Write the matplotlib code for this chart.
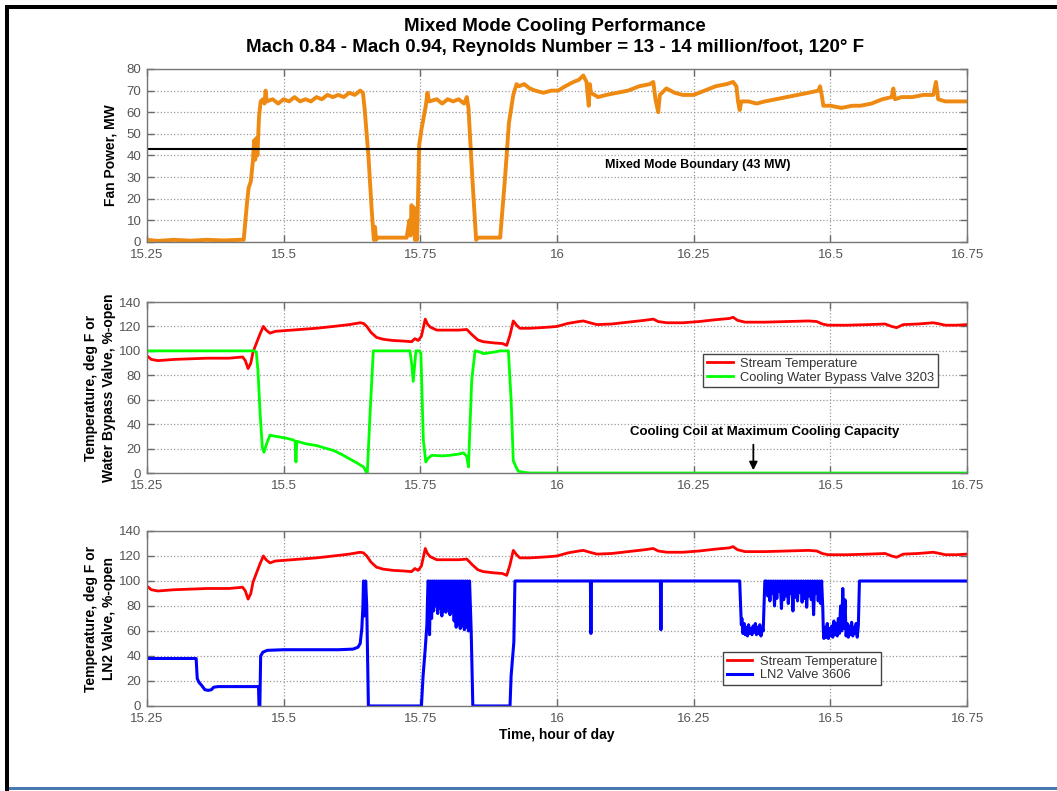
import numpy as np
import matplotlib
matplotlib.use("Agg")
import matplotlib.pyplot as plt
from matplotlib.patches import Rectangle

plt.rcParams["font.family"] = ["Liberation Sans", "DejaVu Sans"]

# ---------------- data ----------------
XTICKS = [15.25, 15.5, 15.75, 16.0, 16.25, 16.5, 16.75]
XTICK_LABELS = ["15.25", "15.5", "15.75", "16", "16.25", "16.5", "16.75"]
BOUNDARY_MW = 43

# fan power, MW
FAN_T = [15.250, 15.270, 15.300, 15.330, 15.360, 15.390, 15.420, 15.427, 15.433, 15.436,
         15.440, 15.444, 15.446, 15.448, 15.450, 15.452, 15.455, 15.458, 15.462, 15.465,
         15.467, 15.469, 15.480, 15.490, 15.500, 15.510, 15.520, 15.530, 15.540, 15.550,
         15.560, 15.570, 15.580, 15.590, 15.600, 15.610, 15.620, 15.630, 15.640, 15.645,
         15.648, 15.655, 15.661, 15.665, 15.667, 15.669, 15.672, 15.690, 15.710, 15.725,
         15.730, 15.732, 15.734, 15.736, 15.738, 15.740, 15.744, 15.748, 15.752, 15.760,
         15.763, 15.766, 15.780, 15.790, 15.800, 15.810, 15.820, 15.830, 15.835, 15.838,
         15.845, 15.852, 15.856, 15.870, 15.885, 15.896, 15.905, 15.912, 15.920, 15.926,
         15.930, 15.940, 15.950, 15.960, 15.975, 15.990, 16.002, 16.015, 16.030, 16.040,
         16.048, 16.054, 16.056, 16.058, 16.060, 16.062, 16.075, 16.090, 16.110, 16.130,
         16.150, 16.170, 16.176, 16.180, 16.185, 16.188, 16.200, 16.215, 16.230, 16.250,
         16.270, 16.290, 16.310, 16.322, 16.328, 16.331, 16.334, 16.337, 16.350, 16.365,
         16.380, 16.400, 16.420, 16.440, 16.460, 16.478, 16.481, 16.484, 16.487, 16.500,
         16.520, 16.540, 16.555, 16.575, 16.595, 16.612, 16.615, 16.618, 16.630, 16.650,
         16.670, 16.688, 16.693, 16.697, 16.710, 16.730, 16.750]
FAN_MW = [1.0, 0.5, 1.0, 0.6, 1.0, 0.7, 1.0, 1.0, 18, 25,
          28, 38, 47, 38, 48, 40, 58, 65, 66, 64,
          70, 65, 66, 64, 66, 65, 67, 65, 66, 65,
          67, 66, 68, 67, 68, 67, 69, 68, 70, 69,
          62, 40, 15, 1, 7, 1, 2, 2, 2, 2,
          10, 3, 17, 5, 16, 1, 1, 45, 52, 63,
          69, 65, 66, 64, 66, 65, 66, 64, 67, 62,
          30, 1, 2, 2, 2, 2, 30, 55, 68, 73,
          72, 73, 71, 70, 69, 70, 70, 72, 74, 75,
          77, 74, 68, 63, 73, 69, 67, 68, 69, 70,
          72, 73, 74, 66, 60, 68, 71, 69, 68, 68,
          70, 72, 73, 74, 72, 65, 61, 65, 65, 64,
          65, 66, 67, 68, 69, 70, 72, 68, 63, 63,
          62, 63, 63, 64, 66, 67, 71, 66, 67, 67,
          68, 68, 74, 66, 65, 65, 65]

# stream temperature, deg F
TEMP_T = [15.250, 15.258, 15.270, 15.300, 15.330, 15.360, 15.400, 15.425, 15.430, 15.435,
          15.440, 15.444, 15.450, 15.457, 15.463, 15.468, 15.475, 15.485, 15.500, 15.530,
          15.560, 15.591, 15.620, 15.640, 15.646, 15.652, 15.660, 15.670, 15.682, 15.700,
          15.720, 15.734, 15.740, 15.746, 15.752, 15.759, 15.763, 15.768, 15.780, 15.800,
          15.820, 15.835, 15.845, 15.855, 15.865, 15.885, 15.900, 15.908, 15.914, 15.920,
          15.926, 15.932, 15.950, 15.970, 15.987, 16.000, 16.020, 16.040, 16.048, 16.060,
          16.073, 16.100, 16.130, 16.160, 16.176, 16.185, 16.201, 16.230, 16.260, 16.290,
          16.315, 16.322, 16.330, 16.344, 16.380, 16.420, 16.460, 16.475, 16.485, 16.496,
          16.530, 16.570, 16.600, 16.612, 16.621, 16.633, 16.660, 16.688, 16.700, 16.710,
          16.730, 16.750]
TEMP_F = [96, 93, 92, 93, 93.5, 94, 94, 95, 92, 85.5,
          90, 99, 106, 114, 120, 117, 114.5, 116, 116.5, 117.5,
          118.5, 120, 121.5, 123, 122.5, 120, 115, 111, 109.5, 108.5,
          108, 107.5, 110, 108.5, 112, 126, 122, 119.5, 117, 117,
          117, 117.5, 113, 109, 107.5, 106.5, 106, 104.5, 113, 124.5,
          121, 118.5, 118.5, 119, 119.5, 120, 122.5, 124, 124.5, 123,
          121.5, 122, 123.5, 125, 126, 124, 123, 123, 124, 125.5,
          126.5, 127.5, 125, 123.5, 123.5, 124, 124.5, 124, 122, 121,
          121, 121.5, 122, 120, 119, 121.5, 122, 123, 122, 121,
          121, 121.5]

# cooling water bypass valve 3203, %-open
BYPASS_T = [15.250, 15.447, 15.450, 15.453, 15.457, 15.461, 15.464, 15.469, 15.475, 15.485,
            15.493, 15.505, 15.518, 15.521, 15.5225, 15.524, 15.540, 15.560, 15.575, 15.591,
            15.605, 15.621, 15.635, 15.646, 15.651, 15.653, 15.658, 15.664, 15.700, 15.731,
            15.734, 15.737, 15.740, 15.742, 15.748, 15.751, 15.7555, 15.760, 15.764, 15.771,
            15.790, 15.804, 15.820, 15.829, 15.835, 15.838, 15.844, 15.850, 15.860, 15.865,
            15.870, 15.885, 15.896, 15.911, 15.916, 15.920, 15.925, 15.929, 15.940, 15.951,
            16.750]
BYPASS_PCT = [100, 100, 99, 84, 49, 21, 17, 24, 31, 30,
              29.5, 28.5, 27, 26, 9, 26, 24, 22.5, 20.5, 18.5,
              15.5, 11.5, 8, 5, 1, 0, 48, 100, 100, 100,
              90, 75, 90, 100, 100, 98, 27, 9, 12, 14.5,
              14, 14.5, 15.5, 16.5, 13.5, 5, 76, 100, 99, 97.7,
              98, 99, 100, 100, 60, 10, 5, 1.5, 0.5, 0,
              0]

# LN2 valve 3606, %-open (steady parts)
LN2_T1 = [15.250, 15.340, 15.342, 15.345, 15.350, 15.356, 15.362, 15.368, 15.372, 15.380,
          15.454, 15.455, 15.4565, 15.458, 15.462, 15.470, 15.500, 15.550, 15.600, 15.627,
          15.636, 15.640, 15.643, 15.645, 15.646, 15.648, 15.650, 15.652, 15.655, 15.752,
          15.755, 15.759, 15.762, 15.764]
LN2_V1 = [38, 38, 22, 19, 16.5, 13, 12.5, 13, 15, 15.5,
          15.5, 0, 0, 40, 43, 44.5, 45, 45, 45, 45.5,
          47, 50, 62, 80, 100, 72, 100, 80, 0, 0,
          24, 46, 65, 100]
LN2_T2 = [15.840, 15.843, 15.846, 15.914, 15.916, 15.919, 15.921, 15.923, 16.061, 16.062,
          16.063, 16.189, 16.190, 16.191, 16.334, 16.337]
LN2_V2 = [100, 60, 0, 0, 24, 40, 51, 100, 100, 58,
          100, 100, 61, 100, 100, 65]
LN2_T3 = [16.380]
LN2_V3 = [100]
LN2_T4 = [16.487]
LN2_V4 = [60]
LN2_T5 = [16.553, 16.750]
LN2_V5 = [100, 100]

# LN2 valve hunting (sampled evenly inside each window)
HUNT_A = (15.765, 15.838)
HUNT_A_V = [100, 57, 100, 70, 100, 76, 100, 80, 100, 74, 100, 78, 100, 72, 100, 76, 100, 75, 100, 79,
            100, 73, 100, 75, 100, 68, 100, 63, 100, 65, 100, 62, 100, 64, 100, 61, 100, 63, 100, 60]
HUNT_B = (16.338, 16.377)
HUNT_B_V = [70, 58, 66, 57, 63, 56, 65, 58, 62, 57, 64, 59, 66, 57, 63, 58, 65, 56, 62, 60]
HUNT_C = (16.383, 16.486)
HUNT_C_V = [100, 88, 100, 84, 100, 90, 100, 80, 100, 86, 100, 92, 100, 78, 100, 85, 100, 88, 100, 82,
            100, 90, 100, 76, 100, 87, 100, 84, 100, 91, 100, 83, 100, 86, 100, 79, 100, 88, 100, 85,
            100, 73, 100, 90, 100, 84, 100, 82, 100, 78]
HUNT_D = (16.488, 16.551)
HUNT_D_V = [54, 63, 55, 66, 54, 62, 56, 64, 55, 68, 57, 66, 56, 70, 58, 80, 60, 94, 62, 85,
            56, 66, 55, 64, 57, 67, 56, 63, 58, 66, 55, 64]


def hunt_times(window, vals):
    return list(np.linspace(window[0], window[1], len(vals)))


ln2_t = (LN2_T1 + hunt_times(HUNT_A, HUNT_A_V) + LN2_T2 + hunt_times(HUNT_B, HUNT_B_V)
         + LN2_T3 + hunt_times(HUNT_C, HUNT_C_V) + LN2_T4 + hunt_times(HUNT_D, HUNT_D_V) + LN2_T5)
ln2_v = (LN2_V1 + HUNT_A_V + LN2_V2 + HUNT_B_V + LN2_V3 + HUNT_C_V + LN2_V4 + HUNT_D_V + LN2_V5)

ORANGE = "#EE8A12"
RED = "#FF0000"
GREEN = "#00FF00"
BLUE = "#0000FF"


def style_axes(ax, ymax, ystep):
    ax.set_xlim(15.25, 16.75)
    ax.set_ylim(0, ymax)
    ax.set_xticks(XTICKS)
    ax.set_xticklabels(XTICK_LABELS)
    ax.set_yticks(np.arange(0, ymax + 1, ystep))
    ax.grid(True, linestyle=":", color="#9a9a9a", linewidth=0.9)
    ax.tick_params(direction="in", length=5, width=1, top=True, right=True,
                   color="#6a6a6a", labelcolor="#555555", labelsize=9.5)
    ax.tick_params(axis="x", pad=5)
    ax.tick_params(axis="y", pad=4)
    for s in ax.spines.values():
        s.set_color("#777777")
        s.set_linewidth(1.0)


def add_legend(ax, anchor):
    leg = ax.legend(loc="upper left", bbox_to_anchor=anchor, fontsize=9.3,
                    frameon=True, fancybox=False, framealpha=1, edgecolor="#444444",
                    handlelength=2.0, handletextpad=0.6, borderpad=0.3, labelspacing=0.12,
                    borderaxespad=0)
    leg.get_frame().set_linewidth(1.0)
    for t in leg.get_texts():
        t.set_color("#333333")
    return leg


fig = plt.figure(figsize=(10.57, 7.91), dpi=100)
fig.patch.set_facecolor("white")

ax1 = fig.add_axes([0.139, 0.6941, 0.776, 0.2187])
ax2 = fig.add_axes([0.139, 0.4020, 0.776, 0.2162])
ax3 = fig.add_axes([0.139, 0.1075, 0.776, 0.2212])

fig.text(0.525, 0.966, "Mixed Mode Cooling Performance", ha="center", va="center",
         fontsize=13.5, fontweight="bold")
fig.text(0.525, 0.940, "Mach 0.84 - Mach 0.94, Reynolds Number = 13 - 14 million/foot, 120° F",
         ha="center", va="center", fontsize=13.5, fontweight="bold")

# --- fan power
ax1.plot(FAN_T, FAN_MW, color=ORANGE, lw=2.8)
ax1.axhline(BOUNDARY_MW, color="black", lw=1.5)
ax1.text(16.258, 35.6, "Mixed Mode Boundary (43 MW)", ha="center", va="center",
         fontsize=9, fontweight="bold")
style_axes(ax1, 80, 10)
ax1.set_ylabel("Fan Power, MW", fontsize=10, fontweight="bold")
ax1.yaxis.set_label_coords(-0.036, 0.5)

# --- temperature and bypass valve
ax2.plot(TEMP_T, TEMP_F, color=RED, lw=2, label="Stream Temperature")
ax2.plot(BYPASS_T, BYPASS_PCT, color=GREEN, lw=2, label="Cooling Water Bypass Valve 3203")
style_axes(ax2, 140, 20)
ax2.set_ylabel("Temperature, deg F or\nWater Bypass Valve, %-open", fontsize=10,
               fontweight="bold", linespacing=1.3)
ax2.yaxis.set_label_coords(-0.038, 0.5)
ax2.text(16.38, 33.2, "Cooling Coil at Maximum Cooling Capacity", ha="center", va="center",
         fontsize=9.5, fontweight="bold")
ax2.annotate("", xy=(16.359, 0), xytext=(16.359, 25.5),
             arrowprops=dict(arrowstyle="-|>", color="black", lw=1.3, mutation_scale=12))
add_legend(ax2, (0.678, 0.696))

# --- temperature and LN2 valve
ax3.plot(TEMP_T, TEMP_F, color=RED, lw=2, label="Stream Temperature")
ax3.plot(ln2_t, ln2_v, color=BLUE, lw=2.2, label="LN2 Valve 3606")
style_axes(ax3, 140, 20)
ax3.set_ylabel("Temperature, deg F or\nLN2 Valve, %-open", fontsize=10,
               fontweight="bold", linespacing=1.3)
ax3.yaxis.set_label_coords(-0.038, 0.5)
ax3.set_xlabel("Time, hour of day", fontsize=10, fontweight="bold", labelpad=2)
add_legend(ax3, (0.702, 0.310))

# slide frame
W, H = 1057.0, 791.0
fig.add_artist(Rectangle((5 / W, 1 - 9 / H), 1 - 5 / W, 4 / H, transform=fig.transFigure,
                         facecolor="black", edgecolor="none"))
fig.add_artist(Rectangle((5 / W, 0), 4 / W, 1 - 5 / H, transform=fig.transFigure,
                         facecolor="black", edgecolor="none"))
fig.add_artist(Rectangle((9 / W, 1 / H), 1 - 9 / W, 3 / H, transform=fig.transFigure,
                         facecolor="#4A78B0", edgecolor="none"))

fig.savefig("out.png", dpi=100)
